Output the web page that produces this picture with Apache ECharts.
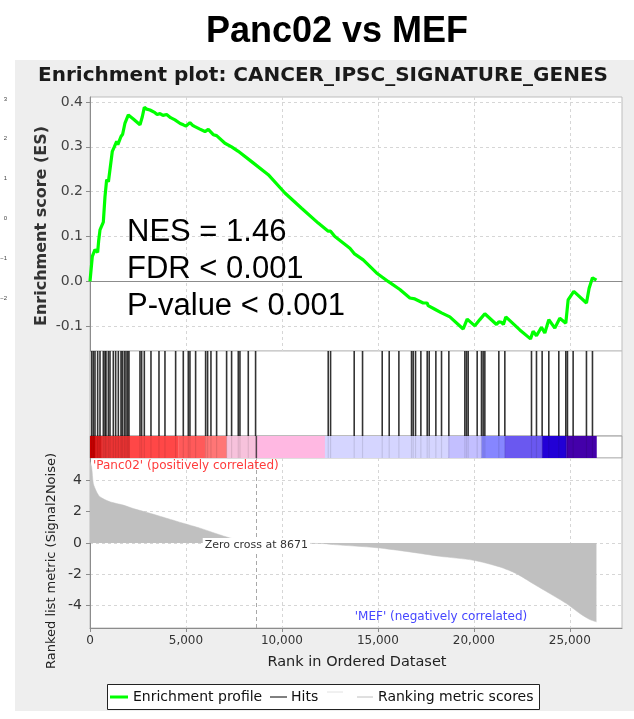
<!DOCTYPE html>
<html>
<head>
<meta charset="utf-8">
<script src="https://cdn.jsdelivr.net/npm/echarts@6/dist/echarts.min.js"></script>
<style>
  html, body { margin: 0; padding: 0; background: #ffffff; }
  #chart { width: 634px; height: 719px; }
</style>
</head>
<body>
<div id="chart"></div>
<script>
// ---- data ----
const rankMax = 27720;          // x-axis end (5% beyond the last rank)
const zeroCross = 8671;
const rankTicks = [0, 5000, 10000, 15000, 20000, 25000];
const esTicks = [-0.1, 0, 0.1, 0.2, 0.3, 0.4];
const metricTicks = [-4, -2, 0, 2, 4];

// running enrichment score
const esRank = [0, 52, 121, 200, 260, 399, 450, 521, 620, 694, 781, 868, 960, 1042, 1163, 1240, 1267, 1330,
  1389, 1450, 1615, 1700, 1823, 1997, 2050, 2257, 2604, 2726, 2830, 2950, 3125, 3200, 3385, 3500, 3646,
  3800, 3993, 4200, 4427, 4700, 4861, 5000, 5208, 5350, 5469, 5700, 5990, 6163, 6424, 6597, 7031, 7378,
  7726, 8420, 9288, 10156, 11024, 11892, 12413, 12535, 12760, 13542, 13766, 14236, 14931, 15535, 16146,
  16667, 16753, 16927, 17361, 17570, 17620, 17969, 18316, 18750, 19444, 19653, 20052, 20313, 20573, 21181,
  21302, 21442, 21540, 21667, 22396, 22953, 23090, 23264, 23524, 23698, 23906, 24219, 24479, 24792, 24913,
  25208, 25868, 26007, 26181, 26389];
const esScore = [0.000, -0.004, 0.056, 0.052, 0.071, 0.065, 0.090, 0.115, 0.112, 0.132, 0.189, 0.227, 0.222,
  0.226, 0.290, 0.286, 0.300, 0.296, 0.312, 0.305, 0.323, 0.328, 0.353, 0.371, 0.372, 0.362, 0.349, 0.367,
  0.388, 0.384, 0.382, 0.378, 0.376, 0.372, 0.374, 0.370, 0.372, 0.365, 0.360, 0.352, 0.349, 0.346, 0.354,
  0.348, 0.345, 0.340, 0.334, 0.339, 0.327, 0.325, 0.308, 0.300, 0.290, 0.267, 0.238, 0.197, 0.163, 0.130,
  0.112, 0.112, 0.100, 0.074, 0.062, 0.048, 0.019, 0.000, -0.018, -0.037, -0.036, -0.039, -0.048, -0.048,
  -0.054, -0.062, -0.070, -0.079, -0.106, -0.084, -0.099, -0.085, -0.072, -0.096, -0.090, -0.091, -0.096,
  -0.079, -0.108, -0.128, -0.111, -0.121, -0.102, -0.115, -0.085, -0.104, -0.082, -0.093, -0.041, -0.022,
  -0.048, -0.015, 0.008, 0.003];

// positions of gene-set members in the ranked list
const hitRank = [87, 174, 260, 399, 521, 694, 781, 833, 955, 1042, 1215, 1337, 1476, 1615, 1684, 1788, 1875,
  1962, 2031, 2604, 2691, 2830, 3177, 3594, 3906, 4462, 4861, 5122, 5208, 5503, 6024, 6128, 6302, 6597,
  7118, 7378, 7726, 7813, 8247, 8628, 12413, 12535, 13766, 14201, 15226, 15590, 16094, 16753, 16840, 16962,
  17240, 17570, 17674, 18021, 18316, 18698, 19531, 19618, 19705, 20174, 20399, 20486, 20573, 21302, 21615,
  23004, 23264, 23559, 23906, 24427, 24792, 24878, 25174, 25868, 26181];

// ranked list metric (Signal2Noise)
const metricRank = [0, 87, 174, 347, 521, 1042, 1736, 2257, 3125, 3993, 4861, 5729, 6597, 7292, 8160, 8671,
  10000, 11000, 12240, 12674, 14931, 16667, 18229, 19965, 21354, 22222, 23090, 23958, 24826, 25521, 26042, 26389];
const metricValue = [5.2, 4.84, 3.8, 3.26, 2.95, 2.63, 2.42, 2.2, 1.9, 1.58, 1.26, 0.95, 0.59, 0.32, 0.05, 0,
  -0.01, -0.02, -0.04, -0.1, -0.3, -0.57, -0.85, -1.1, -1.53, -1.96, -2.6, -3.23, -3.87, -4.5, -4.89, -5.04];

// heat-map bar segments along the ranked list
const bandStart = [0, 260, 607, 2083, 4600, 5990, 7118, 8600, 12240, 18663, 20399, 21615, 23559, 24826];
const bandEnd = [260, 607, 2083, 4600, 5990, 7118, 8600, 12240, 18663, 20399, 21615, 23559, 24826, 26389];

// ---- styles ----
const bandPalette = ['#cc0000', '#dd1c1c', '#ec3434', '#ff4747', '#ff5a5a', '#ff7676', '#f7c2dc', '#ffb8e2',
  '#d5d5ff', '#c3bfff', '#8686ff', '#6a58f0', '#2200d6', '#4400aa'];
const FONT = 'DejaVu Sans';
const GRID_LEFT = 90, GRID_W = 532;
const panels = [
  { top: 97, height: 254 },   // enrichment score
  { top: 351, height: 85 },   // hits
  { top: 436, height: 22 },   // heat-map bar
  { top: 458, height: 170 }   // ranked metric
];
const dashed = { color: '#d6d6d6', type: [3, 3], width: 1 };

function fmtThousands(v) {
  return String(Math.round(v)).replace(/\B(?=(\d{3})+(?!\d))/g, ',');
}

function rankAxis(i, extra) {
  return Object.assign({
    type: 'value', gridIndex: i, min: 0, max: rankMax,
    axisLine: { show: false },
    axisTick: { show: false, customValues: rankTicks },
    axisLabel: { show: false, customValues: rankTicks },
    splitLine: { show: false }
  }, extra);
}

const grids = panels.map((p, i) => ({
  left: GRID_LEFT, width: GRID_W, top: p.top, height: p.height,
  show: true, backgroundColor: '#ffffff',
  borderColor: i === 2 ? '#9a9a9a' : '#bdbdbd', borderWidth: 1,
  outerBoundsMode: 'none', containLabel: false
}));
// small stray scale on the far left
grids.push({ left: 9, width: 1, top: 99, height: 199, show: false, outerBoundsMode: 'none', containLabel: false });

const xAxes = [
  rankAxis(0, {
    axisLine: { show: true, onZero: true, lineStyle: { color: '#8c8c8c', width: 1 } },
    splitLine: { show: true, lineStyle: dashed }
  }),
  rankAxis(1),
  rankAxis(2),
  rankAxis(3, {
    position: 'bottom',
    axisLine: { show: true, onZero: false, lineStyle: { color: '#8c8c8c', width: 1 } },
    axisTick: { show: true, length: 4, customValues: rankTicks, lineStyle: { color: '#8c8c8c' } },
    axisLabel: { show: true, customValues: rankTicks, formatter: fmtThousands, color: '#333', fontSize: 12,
      fontFamily: FONT, margin: 7 },
    splitLine: { show: true, lineStyle: dashed }
  }),
  { type: 'value', gridIndex: 4, show: false, min: 0, max: 1 }
];

const yAxes = [
  {
    type: 'value', gridIndex: 0, min: -0.155, max: 0.411,
    axisLine: { show: true, lineStyle: { color: '#8c8c8c' } },
    axisTick: { show: true, length: 4, customValues: esTicks, lineStyle: { color: '#8c8c8c' } },
    axisLabel: { customValues: esTicks, formatter: v => v.toFixed(1), color: '#444', fontSize: 14,
      fontFamily: FONT, margin: 7 },
    splitLine: { show: true, lineStyle: dashed }
  },
  { type: 'value', gridIndex: 1, min: 0, max: 1, show: false },
  { type: 'value', gridIndex: 2, min: 0, max: 1, show: false },
  {
    type: 'value', gridIndex: 3, min: -5.43, max: 5.43,
    axisLine: { show: true, lineStyle: { color: '#8c8c8c' } },
    axisTick: { show: true, length: 4, customValues: metricTicks, lineStyle: { color: '#8c8c8c' } },
    axisLabel: { customValues: metricTicks, formatter: v => String(v), color: '#333', fontSize: 14,
      fontFamily: FONT, margin: 8 },
    splitLine: { show: true, lineStyle: dashed }
  },
  {
    type: 'value', gridIndex: 4, min: -2, max: 3, interval: 1,
    axisLine: { show: false }, axisTick: { show: false }, splitLine: { show: false },
    axisLabel: { margin: 2, fontSize: 6, color: '#444', fontFamily: 'Liberation Sans',
      formatter: v => (v < 0 ? '\u2212' + (-v) : String(v)) }
  }
];

function vLine(color, width, opacity) {
  return function (params, api) {
    const x = api.coord([api.value(0), 0])[0];
    const y0 = api.coord([0, 1])[1];
    const y1 = api.coord([0, 0])[1];
    return {
      type: 'line',
      shape: { x1: x, y1: y0, x2: x, y2: y1 },
      style: { stroke: color, lineWidth: width, opacity: opacity, fill: null }
    };
  };
}

const series = [
  {
    name: 'Enrichment profile', type: 'line', xAxisIndex: 0, yAxisIndex: 0,
    data: esRank.map((r, i) => [r, esScore[i]]),
    showSymbol: false, symbol: 'none', z: 5,
    lineStyle: { color: '#00ff00', width: 3.2 }
  },
  {
    name: 'Hits', type: 'custom', xAxisIndex: 1, yAxisIndex: 1,
    data: hitRank.map(r => [r]),
    renderItem: vLine('#000000', 1.6, 0.8), silent: true
  },
  {
    type: 'custom', xAxisIndex: 2, yAxisIndex: 2,
    data: bandStart.map((s, i) => [s, bandEnd[i], i]),
    encode: { x: [0, 1] },
    renderItem: function (params, api) {
      const a = api.coord([api.value(0), 1]);
      const b = api.coord([api.value(1), 0]);
      return {
        type: 'rect',
        shape: { x: a[0], y: a[1], width: b[0] - a[0] + 0.3, height: b[1] - a[1] },
        style: { fill: bandPalette[api.value(2)] }
      };
    },
    silent: true
  },
  {
    type: 'custom', xAxisIndex: 2, yAxisIndex: 2, z: 3,
    data: hitRank.map(r => [r]),
    renderItem: vLine('#000000', 1.2, 0.1), silent: true
  },
  {
    type: 'custom', xAxisIndex: 2, yAxisIndex: 2, z: 4,
    data: [[zeroCross]],
    renderItem: vLine('#303030', 1.4, 0.85), silent: true
  },
  {
    name: 'Ranking metric scores', type: 'line', xAxisIndex: 3, yAxisIndex: 3,
    data: metricRank.map((r, i) => [r, metricValue[i]]),
    showSymbol: false, symbol: 'none', smooth: 0.25,
    lineStyle: { color: '#c0c0c0', width: 0.5 },
    areaStyle: { color: '#c0c0c0', opacity: 1 },
    markLine: {
      silent: true, symbol: 'none', label: { show: false },
      lineStyle: { color: '#a8a8a8', type: [4, 3], width: 1 },
      data: [{ xAxis: zeroCross }]
    },
    markPoint: {
      silent: true, symbol: 'rect', symbolSize: 0,
      data: [{ coord: [zeroCross, 0] }],
      label: {
        show: true, position: 'inside', formatter: 'Zero cross at ' + zeroCross,
        color: '#333', fontSize: 11, fontFamily: FONT,
        backgroundColor: '#ffffff', padding: [2, 2, 1, 2], offset: [0, 2]
      }
    }
  }
];

function txt(x, y, text, font, fill, align, extra) {
  return Object.assign({
    type: 'text', x: x, y: y, z: 100,
    style: { text: text, font: font, fill: fill, align: align || 'left', verticalAlign: 'middle',
      textAlign: align || 'left', textVerticalAlign: 'middle' }
  }, extra || {});
}
function seg(x1, y1, x2, y2, stroke, width) {
  return { type: 'line', z: 100, shape: { x1: x1, y1: y1, x2: x2, y2: y2 },
    style: { stroke: stroke, lineWidth: width } };
}

const graphic = [
  { type: 'rect', z: -10, shape: { x: 15, y: 60, width: 619, height: 651 }, style: { fill: '#eeeeee' } },
  txt(337, 32, 'Panc02 vs MEF', 'bold 36px "Liberation Sans"', '#000', 'center'),
  txt(323, 76, 'Enrichment plot: CANCER_IPSC_SIGNATURE_GENES', 'bold 20px "' + FONT + '"', '#1a1a1a', 'center'),
  txt(42, 226, 'Enrichment score (ES)', 'bold 16px "' + FONT + '"', '#333', 'center', { rotation: Math.PI / 2 }),
  txt(52, 561, 'Ranked list metric (Signal2Noise)', '13px "' + FONT + '"', '#222', 'center', { rotation: Math.PI / 2 }),
  txt(357, 662, 'Rank in Ordered Dataset', '14.5px "' + FONT + '"', '#222', 'center'),
  txt(127, 232, 'NES = 1.46', '31px "Liberation Sans"', '#000', 'left'),
  txt(127, 269, 'FDR < 0.001', '31px "Liberation Sans"', '#000', 'left'),
  txt(127, 306, 'P-value < 0.001', '31px "Liberation Sans"', '#000', 'left'),
  txt(93, 466, "'Panc02' (positively correlated)", '12px "' + FONT + '"', '#ff3b3b', 'left'),
  txt(441, 617, "'MEF' (negatively correlated)", '12px "' + FONT + '"', '#4646ff', 'center'),
  // legend
  { type: 'rect', z: 99, shape: { x: 107.5, y: 684.5, width: 432, height: 25 },
    style: { fill: '#ffffff', stroke: '#222', lineWidth: 1 } },
  seg(110, 697, 128, 697, '#00ff00', 3),
  txt(133, 697, 'Enrichment profile', '14px "' + FONT + '"', '#111', 'left'),
  seg(270, 697, 287, 697, '#000000', 1),
  txt(291, 697, 'Hits', '14px "' + FONT + '"', '#111', 'left'),
  seg(327, 692, 343, 692, '#e2e2e2', 1),
  seg(357, 697, 373, 697, '#c0c0c0', 1),
  txt(378, 697, 'Ranking metric scores', '14px "' + FONT + '"', '#111', 'left')
];

const chart = echarts.init(document.getElementById('chart'), null, { renderer: 'canvas' });
chart.setOption({
  animation: false,
  backgroundColor: '#ffffff',
  textStyle: { fontFamily: FONT },
  grid: grids,
  xAxis: xAxes,
  yAxis: yAxes,
  series: series,
  graphic: graphic
});
</script>
</body>
</html>
